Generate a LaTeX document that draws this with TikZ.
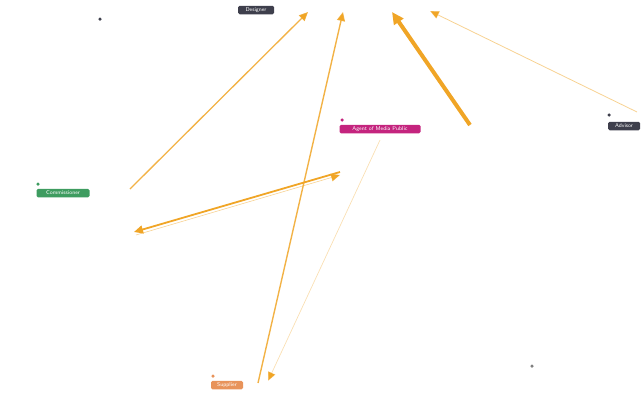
\documentclass[tikz,border=0pt]{standalone}
\usepackage{xcolor}
\usepackage{tikz}
\usetikzlibrary{positioning}
\usetikzlibrary{arrows.meta}

\definecolor{darklabel}{HTML}{3E3F4C}
\definecolor{pinklabel}{HTML}{C4247E}
\definecolor{greenlabel}{HTML}{3E9C60}
\definecolor{orangelabel}{HTML}{E8935A}
\definecolor{flow}{HTML}{F0A526}

\tikzset{
    role/.style={rounded corners=1.5pt, inner xsep=2pt, inner ysep=1.2pt, minimum height=8.5pt, text=white, font=\fontsize{5.5}{6}\selectfont\sffamily},
    pin/.style={circle, fill=darklabel, inner sep=0pt, minimum size=3.5pt},
    flowarrow/.style={draw=flow, -{Triangle[length=9pt, width=8pt]}},
}

\begin{document}
\begin{tikzpicture}[x=1pt, y=-1pt]
    \useasboundingbox (0,0) rectangle (643,394);

    \node [role, fill=darklabel, minimum width=36pt] (designer) at (256,10) {Designer};
    \node [role, fill=pinklabel, minimum width=81pt] (agent) at (380,129) {Agent of Media Public};
    \node [role, fill=darklabel, minimum width=32pt] (advisor) at (624,126) {Advisor};
    \node [role, fill=greenlabel, minimum width=53pt] (commissioner) at (63,193) {Commissioner};
    \node [role, fill=orangelabel, minimum width=32pt] (supplier) at (227,385) {Supplier};

    \node [pin] (p1) at (100,19) {};
    \node [pin, fill=pinklabel] (p2) at (342,120) {};
    \node [pin] (p3) at (609,115) {};
    \node [pin, fill=greenlabel] (p4) at (38,184) {};
    \node [pin, fill=orangelabel] (p5) at (213,376) {};
    \node [pin, fill=gray] (p6) at (532,366) {};

    \coordinate (a1) at (130,189);
    \coordinate (b1) at (308,12);
    \coordinate (a2) at (258,383);
    \coordinate (b2) at (343,12);
    \coordinate (a3) at (470,125);
    \coordinate (b3) at (392,12);
    \coordinate (a4) at (637,112);
    \coordinate (b4) at (430,11);
    \coordinate (a5) at (340,172);
    \coordinate (b5) at (134,232);
    \coordinate (a6) at (136,235);
    \coordinate (b6) at (340,175);
    \coordinate (a7) at (380,140);
    \coordinate (b7) at (268,381);

    \draw [flowarrow, line width=1.3pt, draw opacity=0.85] (a1) -- (b1);
    \draw [flowarrow, line width=1.4pt, draw opacity=0.85] (a2) -- (b2);
    \draw [flowarrow, line width=4pt, -{Triangle[length=12pt, width=11pt]}] (a3) -- (b3);
    \draw [flowarrow, line width=0.8pt, draw opacity=0.5] (a4) -- (b4);
    \draw [flowarrow, line width=1.8pt] (a5) -- (b5);
    \draw [flowarrow, line width=0.6pt, draw opacity=0.5] (a6) -- (b6);
    \draw [flowarrow, line width=0.7pt, draw opacity=0.35] (a7) -- (b7);
\end{tikzpicture}
\end{document}
